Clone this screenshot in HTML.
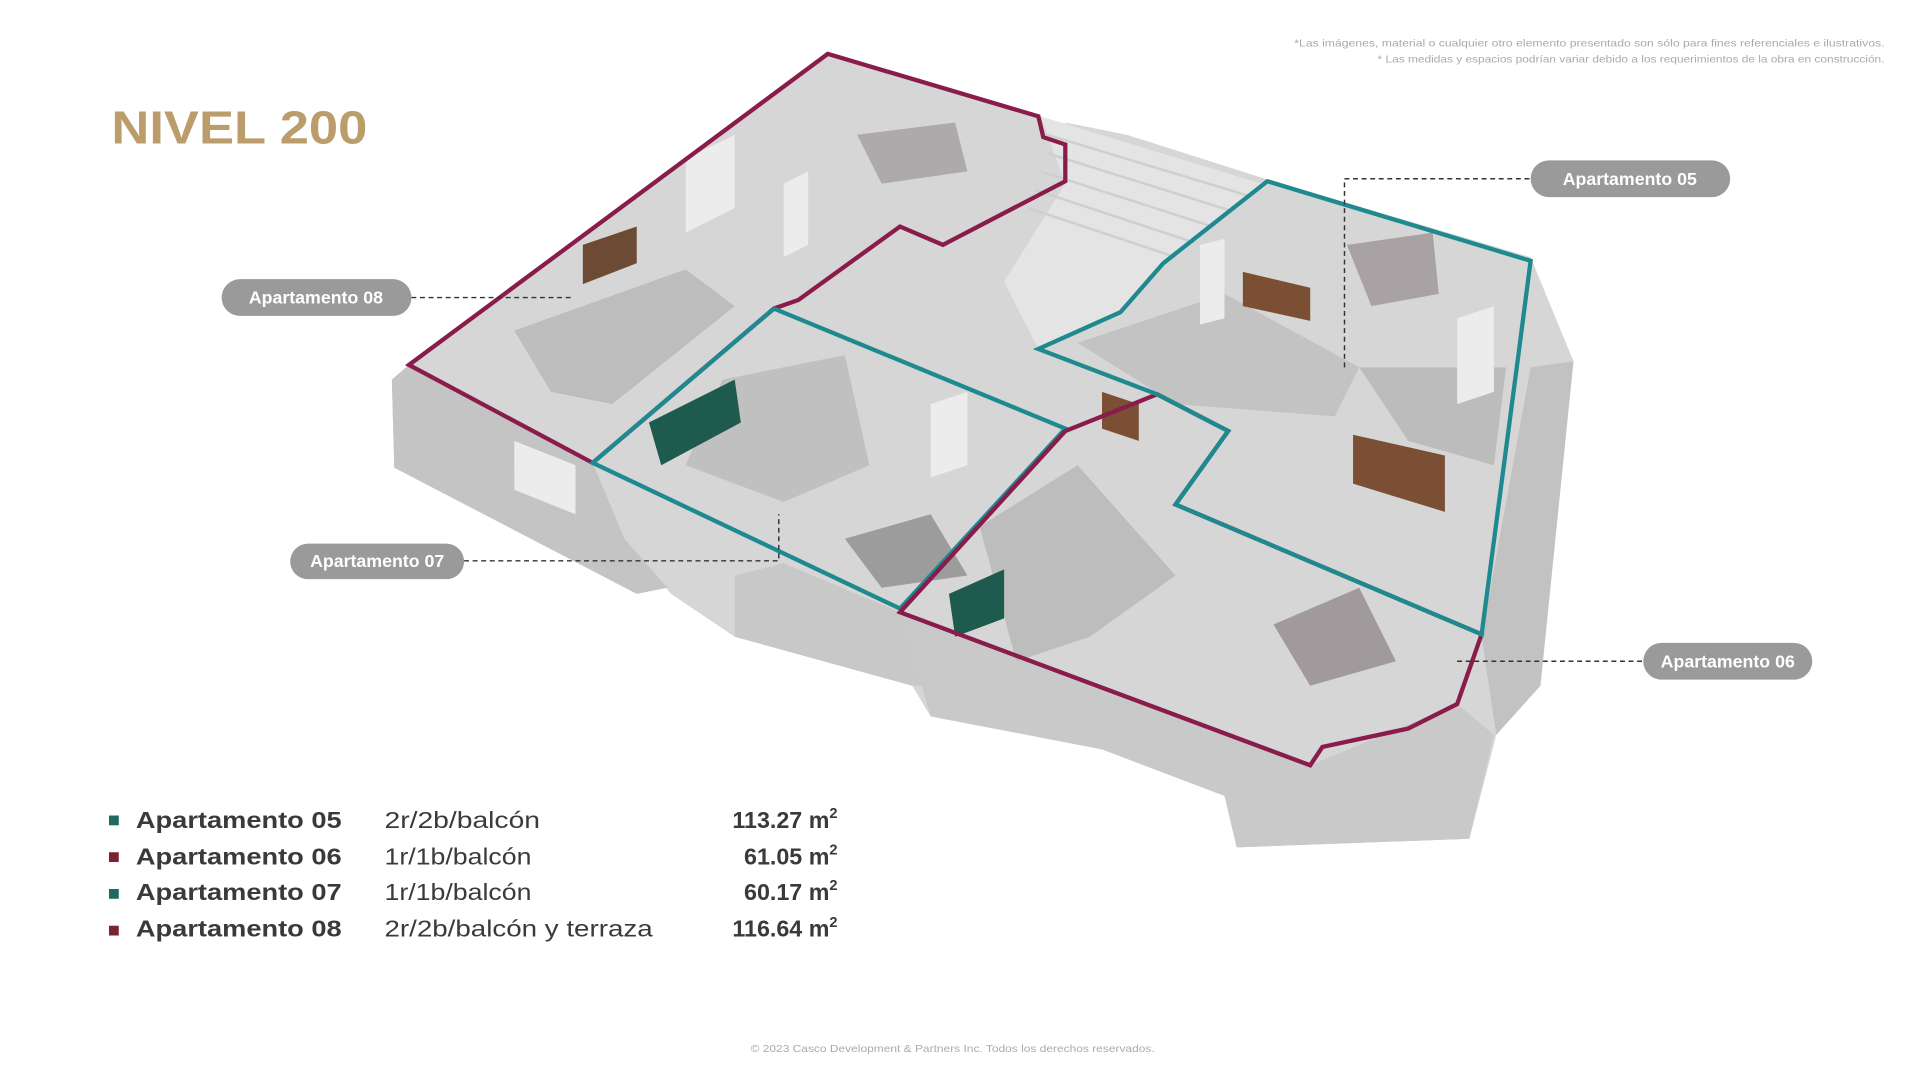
<!DOCTYPE html>
<html><head><meta charset="utf-8"><style>
html,body{margin:0;padding:0;background:#fff;}
svg{display:block}
text{font-family:"Liberation Sans",sans-serif;}
</style></head><body>
<svg width="1920" height="1080" viewBox="0 0 1568 882" xmlns="http://www.w3.org/2000/svg">
<rect width="1568" height="882" fill="#fff"/>
<text x="1539" y="38" font-size="8.5" fill="#aaa" text-anchor="end" textLength="482" lengthAdjust="spacingAndGlyphs">*Las imágenes, material o cualquier otro elemento presentado son sólo para fines referenciales e ilustrativos.</text>
<text x="1539" y="51" font-size="8.5" fill="#aaa" text-anchor="end" textLength="414" lengthAdjust="spacingAndGlyphs">* Las medidas y espacios podrían variar debido a los requerimientos de la obra en construcción.</text>
<text x="91" y="117" font-size="38" font-weight="bold" fill="#bb9d6b" textLength="209" lengthAdjust="spacingAndGlyphs">NIVEL 200</text>

<!-- building mass -->
<polygon points="676,44 850,95 870,120 870,100 920,110 1030,145 1250,210 1285,295 1258,560 1222,600 1200,685 1010,692 1000,650 900,612 760,585 745,560 600,520 548,485 510,440 322,382 320,310 334,298" fill="#d6d6d6"/>
<polygon points="850,95 1030,150 950,215 915,255 848,285 820,230 870,150" fill="#e4e4e4"/>
<g stroke="#cfcfcf" stroke-width="2">
<line x1="855" y1="110" x2="1020" y2="160"/><line x1="855" y1="125" x2="1005" y2="172"/><line x1="850" y1="140" x2="990" y2="185"/><line x1="845" y1="155" x2="975" y2="198"/><line x1="840" y1="170" x2="960" y2="210"/>
</g>
<polygon points="320,310 334,298 484,378 510,440 545,480 520,485 322,382" fill="#c4c4c4"/>
<polygon points="600,470 640,460 735,500 760,560 745,560 600,520" fill="#c8c8c8"/>
<polygon points="735,500 1070,625 1190,575 1220,600 1200,685 1010,692 1000,650 900,612 760,585" fill="#c9c9c9"/>
<polygon points="1210,520 1250,300 1285,295 1258,560 1222,600" fill="#c2c2c2"/>
<!-- floor patterns (darker) -->
<polygon points="420,270 560,220 600,250 500,330 450,320" fill="#bdbdbd"/>
<polygon points="590,310 690,290 710,380 640,410 560,380" fill="#c0c0c0"/>
<polygon points="800,430 880,380 960,470 890,520 830,540" fill="#bdbdbd"/>
<polygon points="880,280 1000,240 1110,300 1090,340 960,330" fill="#c3c3c3"/>
<polygon points="1110,300 1230,300 1220,380 1150,360" fill="#bcbcbc"/>
<polygon points="690,440 760,420 790,470 720,480" fill="#9c9c9c"/>
<polygon points="1040,510 1110,480 1140,540 1070,560" fill="#a09a9c"/>
<polygon points="1100,200 1170,190 1175,240 1120,250" fill="#a8a2a4"/>
<polygon points="700,110 780,100 790,140 720,150" fill="#aeaaab"/>
<polygon points="1105,355 1180,372 1180,418 1105,395" fill="#7a4f33"/>
<polygon points="1015,222 1070,235 1070,262 1015,250" fill="#7a4f33"/>
<polygon points="476,200 520,185 520,215 476,232" fill="#6d4a33"/>
<polygon points="900,320 930,330 930,360 900,350" fill="#7a4f33"/>
<polygon points="530,345 600,310 605,345 540,380" fill="#1f5a4f"/>
<polygon points="775,485 820,465 820,505 780,520" fill="#1f5a4f"/>
<!-- white walls hints -->
<g fill="#ececec">
<polygon points="560,130 600,110 600,170 560,190"/>
<polygon points="640,150 660,140 660,200 640,210"/>
<polygon points="760,330 790,320 790,380 760,390"/>
<polygon points="1190,260 1220,250 1220,320 1190,330"/>
<polygon points="980,200 1000,195 1000,260 980,265"/>
<polygon points="420,360 470,380 470,420 420,400"/>
</g>

<!-- outlines -->
<g fill="none" stroke-width="3.5" stroke-linejoin="miter">
<polygon stroke="#8a1c4c" points="334,298 676,44 848,95 852,112 870,118 870,148 770,200 735,185 652,245 632,252 484,378"/>
<polygon stroke="#1e8a90" points="484,378 632,252 870,350 735,497"/>
<polygon stroke="#8a1c4c" points="735,500 870,352 945,322 1003,352 960,412 1210,518 1190,575 1150,595 1080,610 1070,625"/>
<polygon stroke="#1e8a90" points="848,285 915,255 950,215 1035,148 1250,213 1240,290 1210,518 960,412 1003,352 945,322"/>
</g>

<!-- connectors -->
<g stroke="#333" stroke-width="1.2" stroke-dasharray="4,3" fill="none">
<polyline points="1098,300 1098,146 1250,146"/>
<polyline points="336,243 467,243"/>
<polyline points="379,458 636,458 636,420"/>
<polyline points="1190,540 1342,540"/>
</g>
<g font-size="14.5" font-weight="bold" fill="#fff" text-anchor="middle">
<rect x="1250" y="131" width="163" height="30" rx="15" fill="#9a9a9a"/><text x="1331" y="151">Apartamento 05</text>
<rect x="181" y="228" width="155" height="30" rx="15" fill="#9a9a9a"/><text x="258" y="248">Apartamento 08</text>
<rect x="237" y="444" width="142" height="29" rx="14.5" fill="#9a9a9a"/><text x="308" y="463">Apartamento 07</text>
<rect x="1342" y="525" width="138" height="30" rx="15" fill="#9a9a9a"/><text x="1411" y="545">Apartamento 06</text>
</g>

<!-- legend -->
<g font-size="19" fill="#3a3a3a">
<rect x="89" y="666" width="8" height="8" fill="#1f6b5f"/>
<rect x="89" y="696" width="8" height="8" fill="#7a2430"/>
<rect x="89" y="726" width="8" height="8" fill="#1f6b5f"/>
<rect x="89" y="756" width="8" height="8" fill="#7a2430"/>
<g font-weight="bold">
<text x="111" y="676" textLength="168" lengthAdjust="spacingAndGlyphs">Apartamento 05</text>
<text x="111" y="706" textLength="168" lengthAdjust="spacingAndGlyphs">Apartamento 06</text>
<text x="111" y="735" textLength="168" lengthAdjust="spacingAndGlyphs">Apartamento 07</text>
<text x="111" y="765" textLength="168" lengthAdjust="spacingAndGlyphs">Apartamento 08</text>
</g>
<text x="314" y="676" textLength="127" lengthAdjust="spacingAndGlyphs">2r/2b/balcón</text>
<text x="314" y="706" textLength="120" lengthAdjust="spacingAndGlyphs">1r/1b/balcón</text>
<text x="314" y="735" textLength="120" lengthAdjust="spacingAndGlyphs">1r/1b/balcón</text>
<text x="314" y="765" textLength="219" lengthAdjust="spacingAndGlyphs">2r/2b/balcón y terraza</text>
<g font-weight="bold" text-anchor="end">
<text x="684" y="676">113.27 m<tspan font-size="12" dy="-8">2</tspan></text>
<text x="684" y="706">61.05 m<tspan font-size="12" dy="-8">2</tspan></text>
<text x="684" y="735">60.17 m<tspan font-size="12" dy="-8">2</tspan></text>
<text x="684" y="765">116.64 m<tspan font-size="12" dy="-8">2</tspan></text>
</g>
</g>
<text x="778" y="859" font-size="8.5" fill="#aaa" text-anchor="middle" textLength="330" lengthAdjust="spacingAndGlyphs">© 2023 Casco Development &amp; Partners Inc. Todos los derechos reservados.</text>
</svg>
</body></html>
